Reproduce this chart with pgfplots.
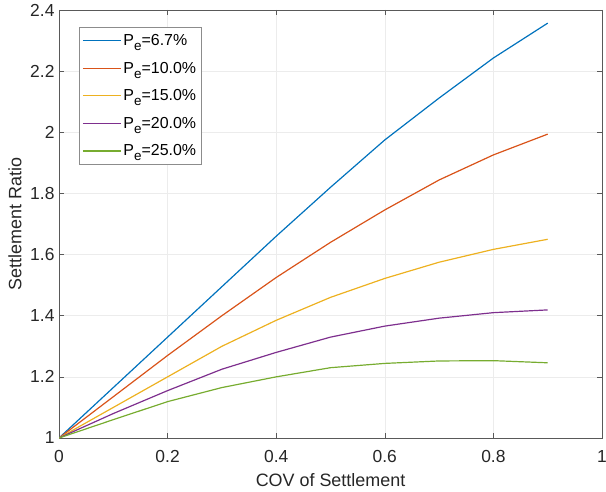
\documentclass[border=0pt]{standalone}
\usepackage{pgfplots}
\pgfplotsset{compat=1.18}
\usepackage{fontspec}
\setmainfont{Liberation Sans}
\definecolor{mblue}{rgb}{0,0.447,0.741}
\definecolor{mred}{rgb}{0.85,0.325,0.098}
\definecolor{myellow}{rgb}{0.929,0.694,0.125}
\definecolor{mpurple}{rgb}{0.494,0.184,0.556}
\definecolor{mgreen}{rgb}{0.466,0.674,0.188}
\newcommand{\Pe}{P\raisebox{-0.6ex}{\fontsize{13.5}{14}\selectfont e}}
\begin{document}
\begin{tikzpicture}
\begin{axis}[
    scale only axis,
    width=543bp, height=428bp,
    xmin=0, xmax=1, ymin=1, ymax=2.4,
    xtick={0,0.2,...,1}, ytick={1,1.2,...,2.4},
    grid=major,
    major grid style={gray!15, line width=0.6pt},
    axis line style={black!65, line width=0.6pt},
    tick style={black!65, line width=0.6pt},
    major tick length=5bp,
    tick align=inside,
    xtick pos=both, ytick pos=both,
    /pgf/number format/assume math mode=true,
    ticklabel style={font=\fontsize{17.5}{21}\selectfont, text=black!85},
    xticklabel style={yshift=-9bp},
    yticklabel style={xshift=-1bp},
    xlabel={COV of Settlement},
    ylabel={Settlement Ratio},
    label style={font=\fontsize{18}{21}\selectfont, text=black!85},
    xlabel style={at={(axis description cs:0.5,-0.098)}, anchor=center},
    ylabel style={at={(axis description cs:-0.081,0.5)}, anchor=center},
    legend style={at={(0.037,0.96)}, anchor=north west, draw=black!45,
        font=\fontsize{16}{18}\selectfont, row sep=11bp,
        inner xsep=3bp, inner ysep=5bp},
    legend cell align=left,
    legend image code/.code={\draw[#1] (0bp,0bp) -- (38bp,0bp);},
    every axis plot/.append style={line width=1.2pt},
]
\addplot[mblue] coordinates {(0,1) (0.1,1.165) (0.2,1.33) (0.3,1.495) (0.4,1.66) (0.5,1.82) (0.6,1.975) (0.7,2.112) (0.8,2.243) (0.9,2.357)};
\addplot[mred] coordinates {(0,1) (0.1,1.135) (0.2,1.27) (0.3,1.40) (0.4,1.525) (0.5,1.64) (0.6,1.746) (0.7,1.844) (0.8,1.926) (0.9,1.994)};
\addplot[myellow] coordinates {(0,1) (0.1,1.10) (0.2,1.20) (0.3,1.30) (0.4,1.385) (0.5,1.46) (0.6,1.522) (0.7,1.575) (0.8,1.617) (0.9,1.65)};
\addplot[mpurple] coordinates {(0,1) (0.1,1.08) (0.2,1.155) (0.3,1.225) (0.4,1.28) (0.5,1.33) (0.6,1.366) (0.7,1.392) (0.8,1.41) (0.9,1.419)};
\addplot[mgreen] coordinates {(0,1) (0.1,1.06) (0.2,1.119) (0.3,1.165) (0.4,1.20) (0.5,1.23) (0.6,1.244) (0.7,1.252) (0.8,1.253) (0.9,1.246)};
\legend{\Pe=6.7\%, \Pe=10.0\%, \Pe=15.0\%, \Pe=20.0\%, \Pe=25.0\%}
\end{axis}
\pgfresetboundingbox
\useasboundingbox ([xshift=-59bp,yshift=-54bp]current axis.south west) rectangle ([xshift=4bp,yshift=10bp]current axis.north east);
\end{tikzpicture}
\end{document}
